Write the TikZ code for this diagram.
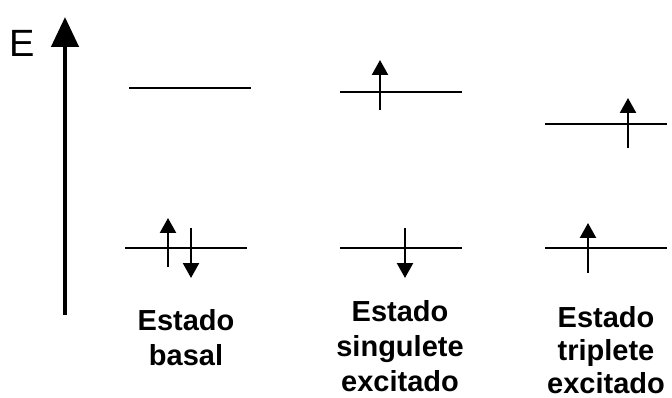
\documentclass[tikz,border=0pt]{standalone}
\usepackage{fontspec}
\setmainfont{Liberation Sans}
\usetikzlibrary{arrows.meta}
\begin{document}
\begin{tikzpicture}[x=1pt,y=-1pt,
  level/.style={line width=2.8pt},
  spin/.style={line width=2.4pt,-{Triangle[length=15pt,width=16pt]}},
  axis/.style={line width=4.5pt,-{Triangle[length=30pt,width=27pt]}},
  lbl/.style={font=\bfseries\fontsize{29}{35}\selectfont,align=center,anchor=base,inner sep=0pt}]
\useasboundingbox (0,0) rectangle (672,398);
% energy axis
\coordinate (ax0) at (65,315);
\coordinate (ax1) at (65,17);
\draw[axis] (ax0) -- (ax1);
\node[font=\fontsize{38}{40}\selectfont,anchor=base,inner sep=0pt] (E) at (22,57) {E};
% levels
\coordinate (b1a) at (129,88);  \coordinate (b1b) at (251,88);
\coordinate (b0a) at (125,248); \coordinate (b0b) at (247,248);
\coordinate (s1a) at (340,92);  \coordinate (s1b) at (462,92);
\coordinate (s0a) at (340,248); \coordinate (s0b) at (462,248);
\coordinate (t1a) at (545,124); \coordinate (t1b) at (667,124);
\coordinate (t0a) at (545,248); \coordinate (t0b) at (667,248);
\foreach \l in {b1,b0,s1,s0,t1,t0} \draw[level] (\l a) -- (\l b);
% spins
\coordinate (u1a) at (168,267); \coordinate (u1b) at (168,218);
\coordinate (d1a) at (191,228); \coordinate (d1b) at (191,278);
\coordinate (u2a) at (380,110); \coordinate (u2b) at (380,60);
\coordinate (d2a) at (405,228); \coordinate (d2b) at (405,278);
\coordinate (u3a) at (628,148); \coordinate (u3b) at (628,98);
\coordinate (u4a) at (588,273); \coordinate (u4b) at (588,223);
\foreach \s in {u1,d1,u2,d2,u3,u4} \draw[spin] (\s a) -- (\s b);
% labels (anchor = baseline of last line)
\node[lbl] (lb) at (186,365) {Estado\\basal};
\node[lbl] (ls) at (400,391) {Estado\\singulete\\excitado};
\node[lbl,font=\bfseries\fontsize{29}{33}\selectfont] (lt) at (606,393) {Estado\\triplete\\excitado};
\end{tikzpicture}
\end{document}
